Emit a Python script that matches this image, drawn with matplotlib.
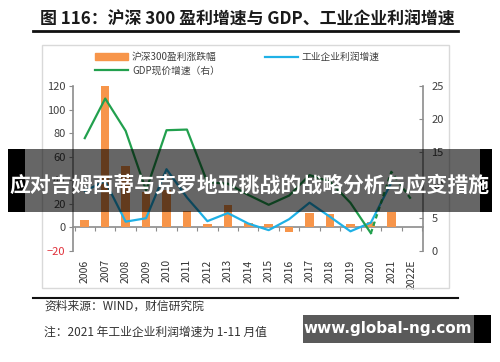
import numpy as np
import matplotlib
matplotlib.use("Agg")
import matplotlib.pyplot as plt
from matplotlib.patches import Rectangle
from matplotlib.lines import Line2D

plt.rcParams['font.family'] = ['Noto Sans CJK SC', 'DejaVu Sans']

years = ['2006', '2007', '2008', '2009', '2010', '2011', '2012', '2013', '2014',
         '2015', '2016', '2017', '2018', '2019', '2020', '2021', '2022E']
hs300_growth = [6.5, 120, 52, 30, 32, 14, 3, 19, 4, 3, -3.5, 12, 11, 3, 4.5, 13, np.nan]
industrial_growth = [31.0, 39.2, 4.9, 7.8, 49.4, 25.4, 5.3, 12.2, 3.3, -2.3, 7.0, 21.0,
                     9.0, -3.3, 4.1, 38.0, np.nan]
gdp_growth = [17.1, 23.1, 18.2, 9.2, 18.3, 18.4, 10.4, 10.2, 8.5, 7.0, 8.4, 11.5,
              10.5, 7.3, 2.7, 12.0, 7.7]
n_actual_gdp = 15  # 2006-2020 solid, rest dashed

title = "图 116：沪深 300 盈利增速与 GDP、工业企业利润增速"
source = "资料来源：WIND，财信研究院"
note = "注：2021 年工业企业利润增速为 1-11 月值"
banner = "应对吉姆西蒂与克罗地亚挑战的战略分析与应变措施"
watermark = "www.global-ng.com"

orange = '#f7954a'
cyan = '#1fb1e6'
green = '#22a04e'
axis_grey = '#8c8c8c'

W, H = 500, 362
fig = plt.figure(figsize=(5, 3.62), dpi=100)


def fx(px):
    return px / W


def fy(py):
    return 1 - py / H


# axes box: left spine x=72.5, right spine x=423, top y=86, bottom y=251
ax = fig.add_axes([fx(72.5), fy(251), fx(423) - fx(72.5), fy(86) - fy(251)])
x = np.arange(len(years))

ax.bar(x, hs300_growth, width=0.42, color=orange, zorder=2)
ax.plot(x, industrial_growth, color=cyan, lw=1.6, zorder=3)
ax.set_xlim(-0.6, 16.55)
ax.set_ylim(-20, 120)
ax.set_yticks(range(-20, 121, 20))
ax.tick_params(axis='y', length=3, color=axis_grey, labelsize=8, labelcolor='#404040', pad=2)
ax.get_yticklabels()[0].set_color('#e0303a')
ax.set_xticks(x)
ax.set_xticklabels(years, rotation=90)
ax.tick_params(axis='x', length=0, labelsize=7.5, labelcolor='#333333', pad=6)
for s in ['top', 'right', 'bottom']:
    ax.spines[s].set_visible(False)
ax.spines['left'].set_color(axis_grey)
ax.spines['left'].set_linewidth(1.2)

# category axis drawn at zero
zero_ax = ax.secondary_xaxis(20 / 140)
zero_ax.set_xticks(np.arange(len(years) + 1) - 0.5)
zero_ax.set_xticklabels([])
zero_ax.tick_params(length=3, color=axis_grey, direction='out')
zero_ax.spines['bottom'].set_color(axis_grey)
zero_ax.spines['bottom'].set_linewidth(1.2)

ax2 = ax.twinx()
ax2.plot(x[:n_actual_gdp], gdp_growth[:n_actual_gdp], color=green, lw=1.6, zorder=3)
ax2.plot(x[n_actual_gdp - 1:], gdp_growth[n_actual_gdp - 1:], color=green, lw=1.6,
         ls=(0, (2, 1.5)), zorder=3)
ax2.set_ylim(0, 25)
ax2.set_yticks(range(0, 26, 5))
ax2.tick_params(axis='y', length=3, direction='in', color=axis_grey, labelsize=8,
                labelcolor='#404040', pad=6)
for s in ['top', 'left', 'bottom']:
    ax2.spines[s].set_visible(False)
ax2.spines['right'].set_color(axis_grey)
ax2.spines['right'].set_linewidth(1.2)

handles = [Rectangle((0, 0), 1, 1, color=orange),
           Line2D([], [], color=green, lw=1.6),
           Line2D([], [], color=cyan, lw=1.6)]
labels = ['沪深300盈利涨跌幅', 'GDP现价增速（右）', '工业企业利润增速']
fig.legend(handles, labels, ncol=2, loc='upper left', bbox_to_anchor=(fx(95), fy(52)),
           frameon=False, fontsize=7, handlelength=3.4, handletextpad=0.4,
           columnspacing=4.6, labelspacing=0.35, borderpad=0, borderaxespad=0,
           labelcolor='#404040')

# chart frame and rules
fig.add_artist(Rectangle((fx(42), fy(288)), fx(449) - fx(42), fy(45) - fy(288),
                         transform=fig.transFigure, fill=False, ec='#d9d9d9', lw=1))
fig.add_artist(Line2D([fx(33), fx(458)], [fy(31), fy(31)], color='#111111', lw=2))
fig.add_artist(Line2D([fx(33), fx(458)], [fy(298), fy(298)], color='#111111', lw=1.5))

fig.text(fx(247), fy(20), title, ha='center', va='center', fontsize=12.2,
         fontweight='bold', color='#1a1a1a')
fig.text(fx(44), fy(306), source, ha='left', va='center', fontsize=8.5, color='#333333',
         style='italic')
fig.text(fx(44), fy(332), note, ha='left', va='center', fontsize=8.5, color='#333333',
         style='italic')

# overlay banner
fig.add_artist(Rectangle((fx(25), fy(212)), fx(480) - fx(25), fy(149) - fy(212),
                         transform=fig.transFigure, color='black', alpha=0.6, lw=0, zorder=5))
fig.add_artist(Rectangle((fx(8), fy(212)), fx(25) - fx(8), fy(149) - fy(212),
                         transform=fig.transFigure, color='black', lw=0, zorder=5))
fig.add_artist(Rectangle((fx(480), fy(212)), fx(492) - fx(480), fy(149) - fy(212),
                         transform=fig.transFigure, color='black', lw=0, zorder=5))
fig.text(fx(250), fy(185), banner, ha='center', va='center', fontsize=15,
         fontweight='bold', color='white', zorder=6)

# watermark
fig.add_artist(Rectangle((fx(303), fy(343)), fx(474) - fx(303), fy(315) - fy(343),
                         transform=fig.transFigure, color='#5a5a5a', lw=0, zorder=5))
fig.add_artist(Rectangle((fx(474), fy(343)), fx(491) - fx(474), fy(315) - fy(343),
                         transform=fig.transFigure, color='black', lw=0, zorder=5))
fig.text(fx(388), fy(329), watermark, ha='center', va='center', fontsize=11,
         fontweight='bold', color='white', family='DejaVu Sans', zorder=6)

fig.savefig("out.png", dpi=100)
